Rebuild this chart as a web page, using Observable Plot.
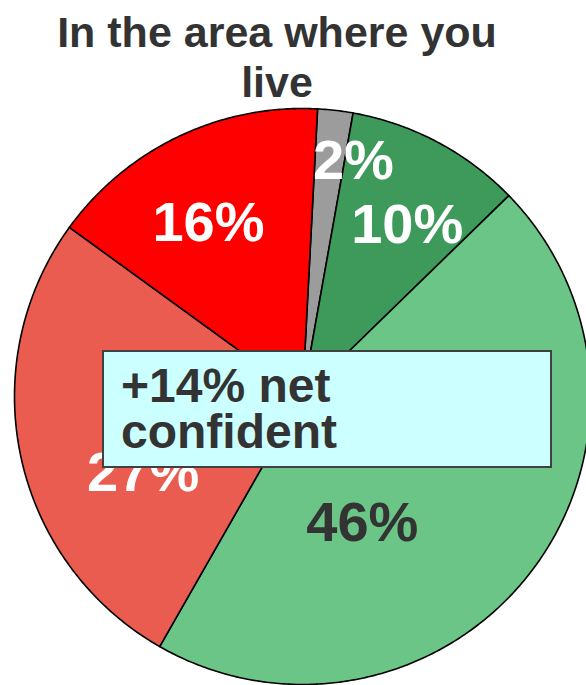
<!DOCTYPE html>
<html><head><meta charset="utf-8">
<script src="https://cdn.jsdelivr.net/npm/d3@7"></script>
<script src="https://cdn.jsdelivr.net/npm/@observablehq/plot@0.6"></script>
<style>
body{margin:0;background:#fff;font-family:"Liberation Sans",Arial,sans-serif;}
#wrap{position:relative;width:586px;height:685px;overflow:hidden;}
#title{box-sizing:border-box;width:554px;height:108px;padding-top:7px;text-align:center;font-weight:bold;font-size:43px;line-height:50px;color:#333;}
#chart svg{display:block;}
#note{position:absolute;box-sizing:border-box;left:102px;top:350px;width:450px;height:118px;background:#CCFFFF;border:2px solid #404040;padding:11px 0 0 17px;font-weight:bold;font-size:48px;line-height:46px;color:#333;}
</style></head>
<body>
<div id="wrap">
  <div id="title">In the area where you<br>live</div>
  <div id="chart"></div>
  <div id="note">+14% net<br>confident</div>
</div>
<script>
// Data
const categories = ["Don't know", "Very confident", "Fairly confident", "Not very confident", "Not at all confident"];
const values = [2, 10, 46, 27, 16];
const labels = ["2%", "10%", "46%", "27%", "16%"];
// Styles / layout
const colors = ["#9c9c9c", "#3d9a5b", "#6bc587", "#ea5b50", "#ff0000"];
const labelColors = ["#fff", "#fff", "#333", "#fff", "#fff"];
const labelAngle = [12.2, 31.4, 154.7, 244.2, 331.5];
const labelRadius = [241, 201, 140, 177, 197];
const startDeg = 3;
const R = 288, W = 586, H = 577, cx = 302, cy = 288;

const total = d3.sum(values);
const rad = d => d * Math.PI / 180;
const pt = (deg, r) => ({x: r * Math.sin(rad(deg)), y: -r * Math.cos(rad(deg))});

let acc = startDeg;
const slices = values.map((v, i) => {
  const a0 = acc, a1 = acc + v / total * 360;
  acc = a1;
  const pts = [{x: 0, y: 0}];
  const n = Math.max(2, Math.ceil((a1 - a0) * 2));
  for (let k = 0; k <= n; k++) pts.push(pt(a0 + (a1 - a0) * k / n, R));
  pts.push({x: 0, y: 0});
  return {cat: categories[i], pts, color: colors[i]};
});

const labelData = labels.map((t, i) => ({text: t, color: labelColors[i], ...pt(labelAngle[i], labelRadius[i])}));

const marks = slices.map(s => Plot.line(s.pts, {x: "x", y: "y", fill: s.color, stroke: "#000", strokeWidth: 1.6, strokeLinejoin: "round", curve: "linear"}));
marks.push(Plot.text(labelData, {x: "x", y: "y", text: "text", fill: d => d.color, fontSize: 56, fontWeight: "bold", fontFamily: "Liberation Sans, Arial, sans-serif"}));

const chart = Plot.plot({
  width: W, height: H,
  margin: 0,
  x: {domain: [-cx, W - cx], range: [0, W], axis: null},
  y: {domain: [-cy, H - cy], range: [0, H], axis: null},
  color: {type: "identity"},
  style: {background: "transparent", overflow: "visible"},
  marks
});
document.getElementById("chart").appendChild(chart);
</script>
</body></html>
